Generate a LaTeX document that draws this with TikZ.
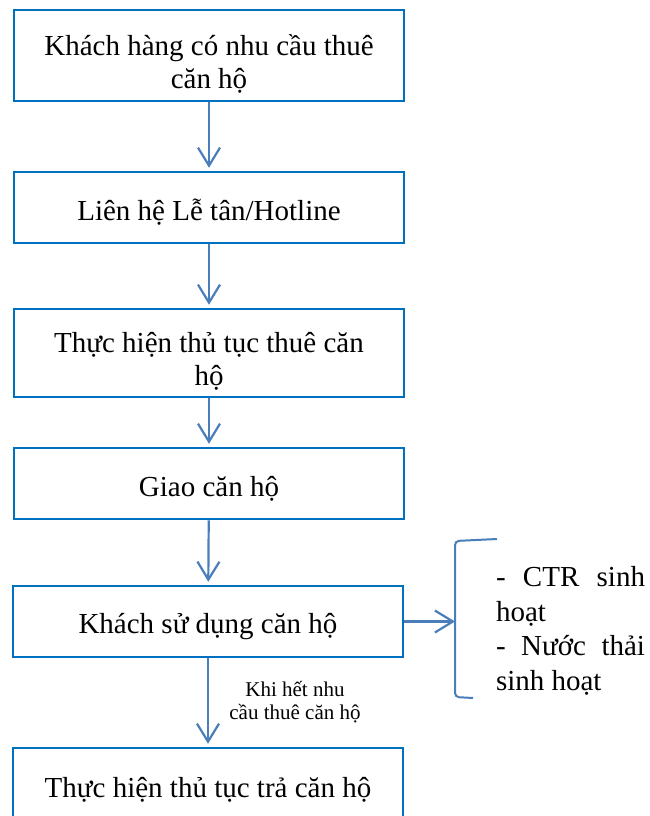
\documentclass[tikz,border=0pt]{standalone}
\usepackage{fontspec}
\setmainfont{Liberation Serif}
\usetikzlibrary{arrows.meta}
\definecolor{boxblue}{RGB}{0,112,192}
\definecolor{lineblue}{RGB}{74,126,187}
\begin{document}
\begin{tikzpicture}[x=1pt,y=-1pt,
        stepbox/.style={draw=boxblue,line width=2.5pt,minimum width=390pt,align=center,inner sep=0pt,font=\fontsize{29}{33}\selectfont,execute at begin node={\rule{0pt}{31pt}}},
        flow/.style={draw=lineblue,line width=2.2pt,shorten >=3pt,-{Straight Barb[length=18pt,width=22pt]}}]
        \useasboundingbox (0,0) rectangle (649,816);
        \node[stepbox,minimum height=91pt] (khach) at (209,55.5) {\rule{0pt}{37pt}Khách hàng có nhu cầu thuê\\căn hộ};
        \node[stepbox,minimum height=71pt] (lienhe) at (209,207.5) {Liên hệ Lễ tân/Hotline};
        \node[stepbox,minimum height=88pt] (thutuc) at (209,353) {\rule{0pt}{36pt}Thực hiện thủ tục thuê căn\\hộ};
        \node[stepbox,minimum height=71pt] (giao) at (209,483.5) {Giao căn hộ};
        \node[stepbox,minimum height=71pt] (sudung) at (208,621.5) {Khách sử dụng căn hộ};
        \node[stepbox,minimum height=72pt] (tra) at (208,784) {Thực hiện thủ tục trả căn hộ};

        \draw[flow] (khach) -- (lienhe);
        \draw[flow] (lienhe) -- (thutuc);
        \draw[flow] (thutuc) -- (giao);
        \draw[flow] (giao) -- (sudung);
        \draw[flow] (sudung) -- (tra);
        \node[align=center,inner sep=0pt,font=\fontsize{21}{23}\selectfont] (khihet) at (295,702) {Khi hết nhu\\cầu thuê căn hộ};

        \coordinate (ngoac) at (456,621.5);
        \draw[flow,shorten >=1pt] (sudung) -- (ngoac);
        \draw[lineblue,line width=2pt,rounded corners=4pt] (497,539) -- (455,541) -- (455,697) -- (473,698);
        \node[text width=149pt,align=justify,inner sep=0pt,font=\fontsize{29}{34.5}\selectfont] (chatthai) at (570.5,631)
         {\noindent- CTR sinh\linebreak hoạt\\- Nước thải\linebreak sinh hoạt};
    \end{tikzpicture}
\end{document}
